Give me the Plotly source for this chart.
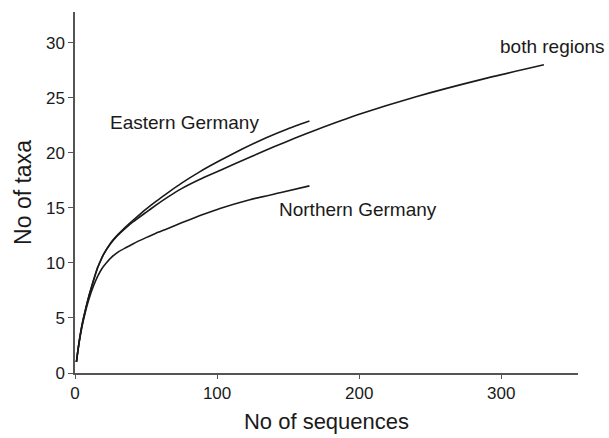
import plotly.graph_objects as go

# Rarefaction curves
east_x = [1, 2, 3, 4, 5, 6, 8, 10, 13, 16, 18, 20, 25, 30, 35, 41, 50, 57, 65, 75, 88, 102, 117, 135, 150, 165]
east_y = [1, 2.0, 2.9, 3.7, 4.4, 5.0, 6.1, 7.1, 8.4, 9.6, 10.2, 10.75, 11.8, 12.55, 13.2, 13.9, 14.9, 15.6, 16.35, 17.25, 18.3, 19.3, 20.3, 21.4, 22.2, 22.9]

north_x = [1, 2, 3, 4, 5, 6, 8, 10, 13, 16, 19, 22, 26, 31, 36, 41, 50, 57, 65, 75, 88, 102, 123, 145, 165]
north_y = [1, 2.0, 2.85, 3.6, 4.25, 4.85, 5.9, 6.8, 7.9, 8.8, 9.5, 10.0, 10.55, 11.05, 11.4, 11.75, 12.3, 12.7, 13.1, 13.65, 14.3, 14.95, 15.75, 16.4, 17.0]

both_x = [1, 2, 3, 4, 5, 6, 8, 10, 13, 16, 18, 20, 25, 30, 35, 41, 50, 57, 65, 75, 88, 102, 123, 140, 155, 170, 200, 240, 287, 330]
both_y = [1, 2.0, 2.9, 3.7, 4.4, 5.0, 6.1, 7.1, 8.4, 9.6, 10.2, 10.75, 11.75, 12.5, 13.1, 13.75, 14.6, 15.25, 15.95, 16.75, 17.6, 18.4, 19.6, 20.55, 21.35, 22.1, 23.5, 25.1, 26.7, 28.0]

labels = ["Eastern Germany", "Northern Germany", "both regions"]
label_x = [77, 199, 336]
label_y = [22.8, 14.9, 29.7]

x_ticks = [0, 100, 200, 300]
y_ticks = [0, 5, 10, 15, 20, 25, 30]

font = "Liberation Sans, Arial, sans-serif"
ink = "#1a1a1a"
line_style = dict(color=ink, width=1.6, shape="spline", smoothing=0.5)

fig = go.Figure()
for xs, ys, name in [(east_x, east_y, labels[0]), (north_x, north_y, labels[1]), (both_x, both_y, labels[2])]:
    fig.add_trace(go.Scatter(x=xs, y=ys, mode="lines", line=line_style, name=name,
                             showlegend=False, hoverinfo="x+y"))

for t, xx, yy in zip(labels, label_x, label_y):
    fig.add_annotation(x=xx, y=yy, text=t, showarrow=False,
                       font=dict(family=font, size=19, color=ink))

fig.update_layout(
    width=609, height=438,
    margin=dict(l=75, r=31, t=12, b=65, autoexpand=False),
    paper_bgcolor="white", plot_bgcolor="white",
    font=dict(family=font, color=ink),
    xaxis=dict(range=[0, 354], tickvals=x_ticks, showgrid=False, zeroline=False,
               showline=True, linecolor="#555555", linewidth=1.5,
               ticks="outside", ticklen=4, tickcolor="#555555", tickwidth=1.2,
               tickfont=dict(size=17), title=dict(text="No of sequences", font=dict(size=22), standoff=11)),
    yaxis=dict(range=[0, 32.8], tickvals=y_ticks, showgrid=False, zeroline=False,
               showline=True, linecolor="#555555", linewidth=1.5,
               ticks="outside", ticklen=5, tickcolor="#555555", tickwidth=1.2,
               tickfont=dict(size=17), title=dict(text="No of taxa", font=dict(size=23), standoff=8)),
)

fig.write_html("out.html", config={"displayModeBar": False},
               post_script="document.body.style.margin='0';")
